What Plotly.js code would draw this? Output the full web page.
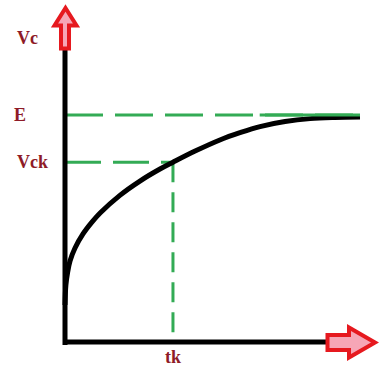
<!DOCTYPE html>
<html><head><meta charset="utf-8">
<script src="https://cdn.plot.ly/plotly-3.0.1.min.js"></script>
<style>html,body{margin:0;padding:0;background:#fff;}#chart{width:383px;height:371px;}</style>
</head><body><div id="chart"></div>
<script>
// ---- data (time in arbitrary units, voltage with E = 10) ----
const timeValues    = [0, 0.03, 0.09, 0.17, 0.34, 0.61, 0.92, 1.19, 1.86, 2.54, 3.22, 3.66, 4.41, 5.25, 5.93, 6.61, 7.46, 8.31, 9.15, 10];
const voltageValues = [1.63, 2.51, 3.08, 3.57, 4.14, 4.76, 5.29, 5.68, 6.46, 7.09, 7.62, 7.92, 8.41, 8.90, 9.22, 9.49, 9.71, 9.84, 9.89, 9.91];
const sourceVoltage = 10;   // E
const tkValue = 3.66;       // tk
const vckValue = 7.92;      // Vck
const axisLabels = ['Vc', 'tk'];
const levelLabels = ['E', 'Vck'];

// ---- layout geometry ----
const W = 383, H = 371;
const ox = 65, oy = 342, sx = 29.5, sy = 22.7;
const fx = p => p / W, fy = p => 1 - p / H;
const path = pts => 'M ' + pts.map(([a, b]) => fx(a) + ',' + fy(b)).join(' L ') + ' Z';

const green = '#33ab55', labelColor = '#8e1b27', red = '#e6191f', pink = '#f6a6b6';
const labelFont = {family: 'Liberation Serif, Times New Roman, serif', size: 18, color: labelColor};

const trace = {
  x: timeValues, y: voltageValues, type: 'scatter', mode: 'lines',
  line: {color: '#000', width: 5, shape: 'spline', smoothing: 1},
  hoverinfo: 'skip'
};

const shapes = [
  // guide lines
  {type: 'line', xref: 'x', yref: 'y', x0: 0, x1: 10, y0: sourceVoltage, y1: sourceVoltage,
   line: {color: green, width: 3, dash: '38px,12px'}, layer: 'below'},
  {type: 'line', xref: 'x', yref: 'y', x0: 6.6, x1: 10, y0: sourceVoltage, y1: sourceVoltage,
   line: {color: green, width: 3}, layer: 'above'},
  {type: 'line', xref: 'x', yref: 'y', x0: 0, x1: tkValue, y0: vckValue, y1: vckValue,
   line: {color: green, width: 3, dash: '36px,12px'}, layer: 'below'},
  {type: 'line', xref: 'x', yref: 'y', x0: tkValue, x1: tkValue, y0: vckValue, y1: 0,
   line: {color: green, width: 3, dash: '20px,10px'}, layer: 'below'},
  // axes
  {type: 'line', xref: 'paper', yref: 'paper', x0: fx(ox), x1: fx(ox), y0: fy(345), y1: fy(47),
   line: {color: '#000', width: 5}},
  {type: 'line', xref: 'paper', yref: 'paper', x0: fx(63), x1: fx(332), y0: fy(oy), y1: fy(oy),
   line: {color: '#000', width: 5}},
  // arrows
  {type: 'path', xref: 'paper', yref: 'paper',
   path: path([[65.5, 8], [76.5, 25.5], [69, 25.5], [69, 48.5], [61, 48.5], [61, 25.5], [54.5, 25.5]]),
   fillcolor: pink, line: {color: red, width: 4}},
  {type: 'path', xref: 'paper', yref: 'paper',
   path: path([[327.5, 335], [349, 335], [349, 327.5], [375, 342.5], [349, 357.5], [349, 350], [327.5, 350]]),
   fillcolor: pink, line: {color: red, width: 4}}
];

const ann = (text, xref, yref, x, y) => ({text: '<b>' + text + '</b>', xref, yref, x, y,
  xanchor: 'center', yanchor: 'middle', showarrow: false, font: labelFont});
const annotations = [
  ann(axisLabels[0], 'paper', 'paper', fx(27), fy(38)),
  ann(axisLabels[1], 'x', 'paper', tkValue, fy(357)),
  ann(levelLabels[0], 'paper', 'y', fx(20), sourceVoltage),
  ann(levelLabels[1], 'paper', 'y', fx(32), vckValue)
];

const layout = {
  width: W, height: H,
  margin: {l: 0, r: 0, t: 0, b: 0, pad: 0},
  paper_bgcolor: '#fff', plot_bgcolor: '#fff',
  showlegend: false, hovermode: false,
  xaxis: {visible: false, range: [-ox / sx, (W - ox) / sx], fixedrange: true},
  yaxis: {visible: false, range: [-(H - oy) / sy, oy / sy], fixedrange: true},
  shapes: shapes, annotations: annotations
};

Plotly.newPlot('chart', [trace], layout, {staticPlot: true, displayModeBar: false});
</script>
</body></html>
